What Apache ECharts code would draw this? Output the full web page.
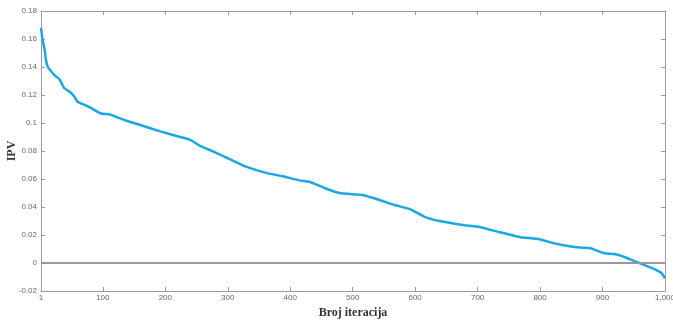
<!DOCTYPE html>
<html>
<head>
<meta charset="utf-8">
<script src="https://cdn.jsdelivr.net/npm/echarts@6/dist/echarts.min.js"></script>
<style>
  html, body { margin: 0; padding: 0; background: #fff; }
  #chart { width: 673px; height: 320px; }
</style>
</head>
<body>
<div id="chart"></div>
<script>
// iteration samples
const iterations = [1, 3, 7, 9, 12, 23, 31, 38, 48, 54, 60, 71, 80, 96, 112, 123, 144, 160, 192, 224, 240, 256, 280, 304, 328, 364, 388, 415, 431, 455, 479, 503, 516, 543, 567, 591, 615, 639, 679, 703, 735, 767, 799, 823, 855, 879, 903, 919, 935, 951, 967, 983, 994, 1000];
const ipv = [0.168, 0.161, 0.152, 0.145, 0.14, 0.134, 0.131, 0.125, 0.122, 0.119, 0.115, 0.113, 0.111, 0.107, 0.106, 0.104, 0.1007, 0.0986, 0.094, 0.09, 0.088, 0.0836, 0.079, 0.074, 0.069, 0.064, 0.062, 0.059, 0.058, 0.0536, 0.05, 0.049, 0.0486, 0.045, 0.0414, 0.0386, 0.033, 0.03, 0.027, 0.0257, 0.022, 0.0186, 0.017, 0.014, 0.0114, 0.0107, 0.007, 0.0064, 0.0043, 0.0014, -0.0014, -0.0043, -0.007, -0.011];
const xTicks = [1, 100, 200, 300, 400, 500, 600, 700, 800, 900, 1000];

const chart = echarts.init(document.getElementById('chart'));

const axisGrey = '#9a9a9a';
const labelStyle = { color: '#666', fontSize: 8, fontFamily: 'Arial, Liberation Sans, sans-serif' };
const nameStyle = { color: '#333', fontSize: 12, fontWeight: 'bold', fontFamily: 'Liberation Serif, DejaVu Serif, serif' };

const xBase = {
  type: 'value',
  min: 1,
  max: 1000,
  axisLine: { show: true, onZero: false, lineStyle: { color: axisGrey, width: 1 } },
  axisTick: { show: true, inside: true, length: 4, customValues: xTicks, lineStyle: { color: axisGrey } },
  splitLine: { show: false }
};

const yBase = {
  type: 'value',
  min: -0.02,
  max: 0.18,
  interval: 0.02,
  axisLine: { show: true, onZero: false, lineStyle: { color: axisGrey, width: 1 } },
  axisTick: { show: true, inside: true, length: 4, lineStyle: { color: axisGrey } },
  splitLine: { show: false }
};

const option = {
  backgroundColor: '#fff',
  animation: false,
  grid: { left: 41, right: 8, top: 11, bottom: 29, containLabel: false, outerBoundsMode: 'none' },
  xAxis: [
    {
      ...xBase,
      position: 'bottom',
      name: 'Broj iteracija',
      nameLocation: 'middle',
      nameGap: 14,
      nameTextStyle: nameStyle,
      axisLabel: {
        ...labelStyle,
        margin: 3,
        customValues: xTicks,
        formatter: v => (v === 1000 ? '1,000' : String(v))
      }
    },
    { ...xBase, position: 'top', axisLabel: { show: false } }
  ],
  yAxis: [
    {
      ...yBase,
      position: 'left',
      name: 'IPV',
      nameLocation: 'middle',
      nameRotate: 90,
      nameGap: 23,
      nameMoveOverlap: false,
      nameTextStyle: nameStyle,
      axisLabel: {
        ...labelStyle,
        margin: 4,
        formatter: v => String(Math.round(v * 100) / 100)
      }
    },
    { ...yBase, position: 'right', axisLabel: { show: false } }
  ],
  series: [
    {
      type: 'line',
      data: iterations.map((x, i) => [x, ipv[i]]),
      showSymbol: false,
      smooth: 0.15,
      lineStyle: { color: '#1aa7e6', width: 2.5 },
      markLine: {
        silent: true,
        symbol: 'none',
        label: { show: false },
        lineStyle: { color: '#999', width: 2, type: 'solid' },
        data: [{ yAxis: 0 }]
      },
      z: 3
    }
  ]
};

chart.setOption(option);
</script>
</body>
</html>
